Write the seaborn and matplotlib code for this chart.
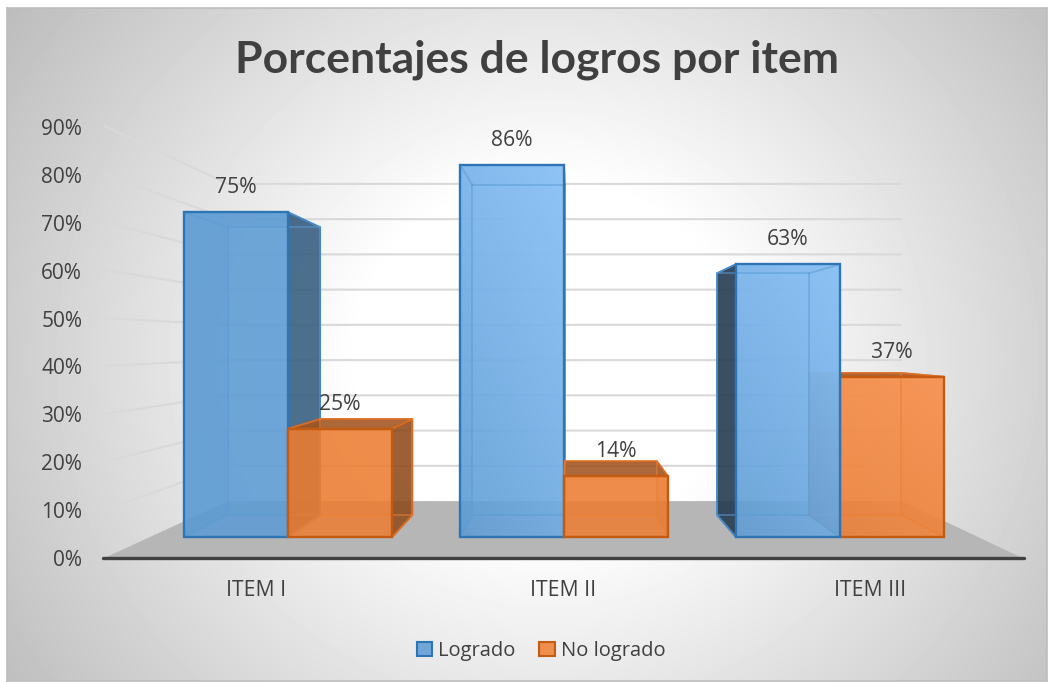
import numpy as np
import pandas as pd
import matplotlib
matplotlib.use("Agg")
import matplotlib.pyplot as plt
from matplotlib.patches import Polygon, Rectangle, Patch
import seaborn as sns

items = ["ITEM I", "ITEM II", "ITEM III"]
logrado = [75, 86, 63]
no_logrado = [25, 14, 37]
series = ["Logrado", "No logrado"]
axis_ticks = [0, 10, 20, 30, 40, 50, 60, 70, 80, 90]

W, H = 1052, 682
sns.set_theme(style="white")
plt.rcParams["font.family"] = ["Open Sans", "DejaVu Sans"]
TXT = "#404040"

fig = plt.figure(figsize=(W / 100, H / 100), dpi=100, facecolor="white")


def rect(l, t, r, b):
    return [l / W, 1 - b / H, (r - l) / W, (b - t) / H]


# background panel
bg = fig.add_axes(rect(7, 8, 1047, 681), zorder=0)
yy, xx = np.mgrid[0:673, 0:1040]
d = np.hypot((xx - 540) / 540, (yy - 350) / 500)
shade = np.clip(1.0 - np.clip(d - 0.35, 0, None) * 0.30, 0, 1)
bg.imshow(shade, cmap="gray", vmin=0, vmax=1, aspect="auto")
bg.set_xticks([])
bg.set_yticks([])
for s in bg.spines.values():
    s.set_color("#bdbdbd")
    s.set_linewidth(1.2)

# main axes: the plane of the front faces of the bars
df = pd.DataFrame({
    "item": items * 2,
    "serie": [series[0]] * 3 + [series[1]] * 3,
    "valor": logrado + no_logrado,
})
BLUE, ORANGE = "#5b9bd5", "#ed7d31"
EDGE = {"Logrado": "#2e75b6", "No logrado": "#c55a11"}
ax = fig.add_axes([0, 0, 1, 1], zorder=1)
ax.patch.set_alpha(0)
sns.barplot(data=df, x="item", y="valor", hue="serie", hue_order=series,
            palette={series[0]: BLUE, series[1]: ORANGE}, width=0.754, gap=0,
            saturation=1, legend=False, errorbar=None, ax=ax)
ax.set_autoscale_on(False)
PX_X, PX_Y = 276.0, 4.33
ax.set_xlim(-288 / PX_X, (W - 288) / PX_X)
ax.set_ylim((537 - H) / PX_Y, 537 / PX_Y)
ax.axis("off")

VX, VY = (570 - 288) / PX_X, (537 - 344) / PX_Y
S_AXIS, S_WALL, S_BACK = 1.109, 0.814, 0.886


def proj(x, y, s):
    return (VX + (x - VX) * s, VY + (y - VY) * s)


# floor and walls
ax.add_patch(Polygon([proj(-0.5, 0, S_AXIS), proj(2.5, 0, S_AXIS),
                      proj(2.5, 0, S_WALL), proj(-0.5, 0, S_WALL)],
                     closed=True, fc="#b6b6b6", ec="none", zorder=2))
for v in axis_ticks[1:]:
    pts = np.array([proj(-0.5, v, S_AXIS), proj(-0.5, v, S_WALL), proj(2.5, v, S_WALL)])
    ax.plot(pts[:, 0], pts[:, 1], color="#d9d9d9", lw=1.5, zorder=3, solid_capstyle="butt")

# gradient strength of the front faces, per bar
grad = {series[0]: ([0.0, 0.95, 0.9], "#92c6f9"), series[1]: ([0.0, 0.0, 0.7], "#fc9d62")}
dark_side = {series[0]: {"left": 0.36, "right": 0.60, "top": 0.6},
             series[1]: {"left": 0.6, "right": 0.60, "top": 0.68}}

boxes = []
for name, cont, col in zip(series, ax.containers, (BLUE, ORANGE)):
    for i, p in enumerate(cont.patches):
        boxes.append((name, i, p, col))
boxes.sort(key=lambda b: -abs(b[2].get_x() + b[2].get_width() / 2 - VX))

for rank, (name, i, p, col) in enumerate(boxes):
    z = 10 + 3 * rank
    rgb = np.array(matplotlib.colors.to_rgb(col))
    x0, x1, h = p.get_x(), p.get_x() + p.get_width(), p.get_height()
    F = lambda x, y: (x, y)
    B = lambda x, y: proj(x, y, S_BACK)
    faces = {
        "left": [F(x0, 0), F(x0, h), B(x0, h), B(x0, 0)],
        "right": [F(x1, 0), F(x1, h), B(x1, h), B(x1, 0)],
        "top": [F(x0, h), F(x1, h), B(x1, h), B(x0, h)],
    }
    outer = {"left": x0 > VX, "right": x1 < VX, "top": h < VY}
    # back and inner faces
    ax.add_patch(Polygon([B(x0, 0), B(x1, 0), B(x1, h), B(x0, h)], closed=True,
                         fc=(*rgb * 0.9, 0.15), ec="none", zorder=z))
    for k, pts in faces.items():
        if not outer[k]:
            ax.add_patch(Polygon(pts, closed=True, fc=(*rgb * 0.8, 0.3), ec="none", zorder=z + 0.1))
    for k, pts in faces.items():
        if outer[k]:
            ax.add_patch(Polygon(pts, closed=True, fc=(*rgb * dark_side[name][k], 0.87),
                                 ec=EDGE[name], lw=1.3, zorder=z + 0.2, joinstyle="round"))
    # front face: the seaborn bar
    p.set_alpha(None)
    p.set_facecolor((*rgb, 0.85))
    p.set_edgecolor("none")
    p.set_zorder(z + 1)
    strength = grad[name][0][i]
    if strength > 0:
        top = matplotlib.colors.to_rgb(grad[name][1])
        g = np.linspace(0, 1, 64)
        u, w = np.meshgrid(g, g)
        img = np.zeros((64, 64, 4))
        img[..., :3] = top
        img[..., 3] = strength * (0.35 * u + 0.65 * w)
        im = ax.imshow(img, extent=(x0, x1, 0, h), origin="lower", aspect="auto", zorder=z + 1.1)
        im.set_clip_path(Rectangle((x0, 0), x1 - x0, h, transform=ax.transData))
    # back edges seen through the front
    for a, b in [(B(x0, 0), B(x1, 0)), (B(x1, 0), B(x1, h)), (B(x1, h), B(x0, h)), (B(x0, h), B(x0, 0)),
                 (F(x0, 0), B(x0, 0)), (F(x1, 0), B(x1, 0)), (F(x0, h), B(x0, h)), (F(x1, h), B(x1, h))]:
        ax.plot([a[0], b[0]], [a[1], b[1]], color=(*rgb, 0.55), lw=1.3, zorder=z + 1.2)
    ax.add_patch(Rectangle((x0, 0), x1 - x0, h, fill=False, ec=EDGE[name], lw=1.7, zorder=z + 1.3))

for cont in ax.containers:
    for t in ax.bar_label(cont, fmt="%g%%", padding=10, fontsize=15.2, color=TXT):
        t.set_zorder(60)

ax.set_xlim(-288 / PX_X, (W - 288) / PX_X)
ax.set_ylim((537 - H) / PX_Y, 537 / PX_Y)

# axis plane: value ticks, categories, axis line, title, legend
ax2 = fig.add_axes(rect(103, 127, 1024, 558), zorder=2)
ax2.patch.set_alpha(0)
ax2.set_xlim(-0.5, 2.5)
ax2.set_ylim(0, 90)
ax2.set_xticks(range(3), items)
ax2.set_yticks(axis_ticks, [f"{v}%" for v in axis_ticks])
ax2.tick_params(axis="y", length=0, pad=15, labelsize=15, labelcolor=TXT)
ax2.tick_params(axis="x", length=0, pad=15.5, labelsize=15.3, labelcolor=TXT)
for k, s in ax2.spines.items():
    s.set_visible(k == "bottom")
ax2.spines["bottom"].set_color("#404040")
ax2.spines["bottom"].set_linewidth(2.4)
ax2.spines["bottom"].set_capstyle("round")
ax2.grid(False)

fig.text(537 / W, 1 - 60 / H, "Porcentajes de logros por item", ha="center", va="center",
         fontsize=32, fontweight="bold", color=TXT, zorder=5, family=["Lato", "DejaVu Sans"])

handles = [Patch(facecolor=(*matplotlib.colors.to_rgb(BLUE), 0.85), edgecolor=EDGE[series[0]], lw=1.5, label=series[0]),
           Patch(facecolor=(*matplotlib.colors.to_rgb(ORANGE), 0.85), edgecolor=EDGE[series[1]], lw=1.5, label=series[1])]
fig.legend(handles=handles, loc="center", bbox_to_anchor=(541 / W, 1 - 651 / H), ncol=2, frameon=False,
           fontsize=14.5, labelcolor=TXT, handlelength=0.75, handleheight=0.75, handletextpad=0.3,
           columnspacing=1.2, borderpad=0)

fig.savefig("out.png", dpi=100, facecolor="white")
